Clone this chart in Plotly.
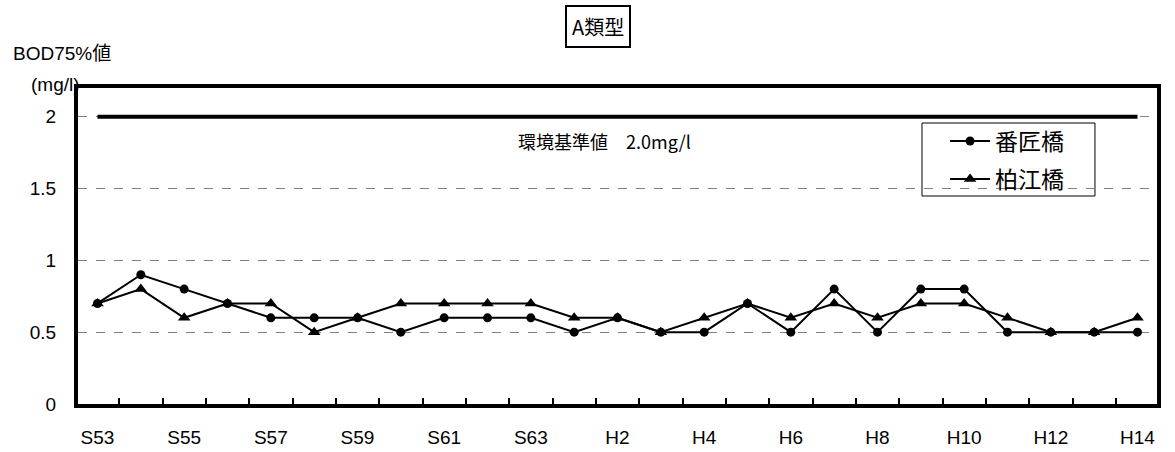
import plotly.graph_objects as go

# Fiscal years (Showa 53 – Heisei 14)
years = ["S53", "S54", "S55", "S56", "S57", "S58", "S59", "S60", "S61", "S62", "S63",
         "H1", "H2", "H3", "H4", "H5", "H6", "H7", "H8", "H9", "H10", "H11", "H12", "H13", "H14"]

# BOD 75% values (mg/l)
banjo = [0.7, 0.9, 0.8, 0.7, 0.6, 0.6, 0.6, 0.5, 0.6, 0.6, 0.6,
         0.5, 0.6, 0.5, 0.5, 0.7, 0.5, 0.8, 0.5, 0.8, 0.8, 0.5, 0.5, 0.5, 0.5]
kashiwae = [0.7, 0.8, 0.6, 0.7, 0.7, 0.5, 0.6, 0.7, 0.7, 0.7, 0.7,
            0.6, 0.6, 0.5, 0.6, 0.7, 0.6, 0.7, 0.6, 0.7, 0.7, 0.6, 0.5, 0.5, 0.6]

standard = 2.0
y_ticks = [0, 0.5, 1, 1.5, 2]
y_tick_text = ["0", "0.5", "1", "1.5", "2"]

xs = list(range(len(years)))
label_idx = xs[::2]

FONT = "Liberation Sans, Arial, Noto Sans CJK JP, sans-serif"
JFONT = "Noto Sans CJK JP, Liberation Sans, sans-serif"

fig = go.Figure()

# environmental standard line
fig.add_trace(go.Scatter(
    x=[xs[0], xs[-1]], y=[standard, standard], mode="lines",
    line=dict(color="black", width=4), showlegend=False, hoverinfo="skip"))

fig.add_trace(go.Scatter(
    x=xs, y=banjo, mode="lines+markers", name="番匠橋", legendgroup="a",
    line=dict(color="black", width=2),
    marker=dict(symbol="circle", size=9, color="black")))

fig.add_trace(go.Scatter(
    x=xs, y=kashiwae, mode="lines+markers", name="柏江橋", legendgroup="b",
    line=dict(color="black", width=2),
    marker=dict(symbol="triangle-up", size=11, color="black")))

fig.update_layout(
    width=1175, height=452,
    margin=dict(l=78, r=18, t=88, b=48, autoexpand=False),
    paper_bgcolor="white", plot_bgcolor="white",
    font=dict(family=FONT, color="black", size=19),
    legend=dict(
        x=0.8036, y=0.90, xanchor="left", yanchor="top",
        bgcolor="rgba(0,0,0,0)", borderwidth=0,
        font=dict(family=JFONT, size=23), itemwidth=40,
        tracegroupgap=5),
    showlegend=True,
)

# legend frame
fig.add_shape(type="rect", xref="paper", yref="paper",
              x0=0.7822, x1=0.9425, y0=0.6582, y1=0.8892,
              line=dict(color="black", width=1), fillcolor="white", layer="below")

fig.update_xaxes(
    automargin=False,
    range=[-0.45, len(years) - 0.55],
    tickmode="array", tickvals=label_idx, ticktext=[years[i] for i in label_idx],
    ticks="", showgrid=False, zeroline=False,
    showline=True, linecolor="black", linewidth=4, mirror=True,
    ticklabelstandoff=13,
    tickfont=dict(size=19, family=FONT),
    minor=dict(tickvals=[i + 0.5 for i in xs[:-1]], ticks="inside", ticklen=6,
               tickwidth=2, tickcolor="black", showgrid=False),
)

fig.update_yaxes(
    automargin=False,
    range=[0, 2.2],
    tickmode="array", tickvals=y_ticks, ticktext=y_tick_text,
    ticks="", showgrid=True, gridcolor="#808080", gridwidth=1, griddash="dash",
    zeroline=False,
    showline=True, linecolor="black", linewidth=4, mirror=True,
    ticklabelstandoff=14,
    tickfont=dict(size=19, family=FONT),
)

fig.add_annotation(
    text="環境基準値　2.0mg/l", xref="paper", yref="paper",
    x=0.4884, y=0.832, xanchor="center", yanchor="middle", showarrow=False,
    font=dict(family=JFONT, size=18))

fig.add_annotation(
    text="A類型", xref="paper", yref="paper",
    x=0.4815, y=1.196, xanchor="center", yanchor="middle", showarrow=False,
    bordercolor="black", borderwidth=2, borderpad=5, bgcolor="white",
    font=dict(family=JFONT, size=20))

fig.add_annotation(
    text="BOD75%値", xref="paper", yref="paper",
    x=-0.0621, y=1.1076, xanchor="left", yanchor="middle", showarrow=False,
    font=dict(family=FONT, size=19))

fig.add_annotation(
    text="(mg/l)", xref="paper", yref="paper",
    x=-0.0209, y=1.0095, xanchor="center", yanchor="middle", showarrow=False,
    font=dict(family=FONT, size=19))

fig.write_html("out.html")
